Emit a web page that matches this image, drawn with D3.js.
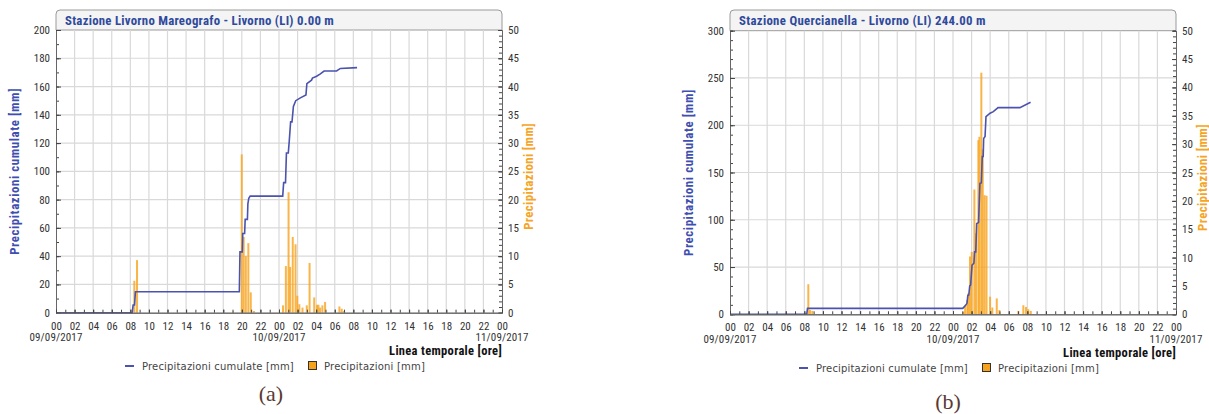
<!DOCTYPE html>
<html>
<head>
<meta charset="utf-8" />
<title></title>
<style>
html, body {
    margin: 0px;
    padding: 0px;
    background: #fff;
}
svg text {
    font-family: "Liberation Sans Narrow", "Roboto Condensed", Roboto, sans-serif;
}
.tick text {
    fill: #333;
    font-size: 11px;
}
</style>
</head>
<body>
<svg id="chart" width="1209" height="414"></svg>

<script src="https://cdnjs.cloudflare.com/ajax/libs/d3/7.8.5/d3.min.js"></script>
<script>
!(function(){
    "use strict";

    // hours since 09/09/2017 00:00
    var hourTicks = [0,2,4,6,8,10,12,14,16,18,20,22,24,26,28,30,32,34,36,38,40,42,44,46,48];
    var hourLabels = ["00","02","04","06","08","10","12","14","16","18","20","22",
                      "00","02","04","06","08","10","12","14","16","18","20","22","00"];
    var dateHours = [0, 24, 48];
    var dateLabels = ["09/09/2017", "10/09/2017", "11/09/2017"];

    var titleA = "Stazione Livorno Mareografo - Livorno (LI) 0.00 m";
    var titleB = "Stazione Quercianella - Livorno (LI) 244.00 m";

    var leftTicksA = [0,20,40,60,80,100,120,140,160,180,200];
    var leftTicksB = [0,50,100,150,200,250,300];
    var rightTicks = [0,5,10,15,20,25,30,35,40,45,50];

    // cumulated precipitation [mm], [hour, value]
    var cumA = [[0,0],[8.2,0],[8.3,5.4],[8.45,5.4],[8.55,14.8],[19.73,14.8],[19.8,43],[20.05,43],
        [20.1,56],[20.3,56],[20.36,66],[20.6,66],[20.65,77],[20.75,81],[20.9,82.5],[24.4,82.5],
        [24.5,92],[24.7,92],[24.8,113],[25.0,113],[25.1,121],[25.25,135],[25.4,135],[25.55,146],
        [25.8,150],[26.3,152],[26.9,154],[27.0,162],[27.5,164.5],[27.6,166],[28.05,167.3],
        [28.45,169],[28.85,171],[30.2,171],[30.6,172.8],[32.4,173.4]];

    var cumB = [[0,0],[8.26,0],[8.34,6.3],[25.05,6.3],[25.4,10],[25.5,11.6],[25.6,20],[25.7,20.4],
        [25.8,30],[25.9,31],[26.05,52],[26.25,54],[26.32,66],[26.45,66],[26.55,96],[26.75,97],
        [26.9,138.6],[27.05,139],[27.15,167],[27.25,167],[27.3,186],[27.45,188],[27.55,209],
        [27.99,212.7],[28.34,214.4],[28.85,218.6],[31.2,218.6],[32.35,224.3]];

    // precipitation [mm], [hour, value]
    var rainA = [[8.43,5.65],[8.72,9.3],[19.05,0.2],[19.99,28],[20.2,13.4],[20.43,10],[20.7,12.3],
        [20.96,3.6],[21.3,0.3],[24.43,1.3],[24.74,8.25],[25.03,21.3],[25.2,8.1],[25.48,13.4],
        [25.78,12.1],[25.97,3],[26.19,1.5],[26.53,0.9],[26.99,1.3],[27.29,8.8],[27.79,2.7],
        [28.1,1.4],[28.24,1.4],[28.42,0.9],[28.67,1.3],[28.96,1.9],[30.5,1.1],[30.75,0.7],[31.0,0.3]];

    var rainB = [[8.43,5.3],[8.61,0.75],[8.86,0.6],[25.11,0.45],[25.3,1.5],[25.54,2.5],[25.65,3.7],
        [25.83,10.2],[26.02,11],[26.3,22],[26.48,14.3],[26.73,30.7],[26.84,31.3],[27.05,42.6],
        [27.2,29.1],[27.4,21],[27.61,20.9],[27.99,3.1],[28.23,1.2],[28.71,2.8],[28.99,0.75],
        [31.03,0.6],[31.57,1.6],[31.86,1.3],[32.1,0.9],[32.37,0.6]];

    var blue = "#4a53ad", orange = "#f7a21b";

    var charts = [
        {x0: 56, x1: 502, y0: 30, y1: 312.7, title: titleA, titleW: 269, cum: cumA, rain: rainA,
         leftTicks: leftTicksA, leftMinor: 10, caption: "(a)", capX: 271, capY: 401,
         legX: 125, legY: 366, ltX: 14, rtX: 528},
        {x0: 730, x1: 1176, y0: 30.7, y1: 314.3, title: titleB, titleW: 247, cum: cumB, rain: rainB,
         leftTicks: leftTicksB, leftMinor: 10, caption: "(b)", capX: 948, capY: 409,
         legX: 799, legY: 368, ltX: 688, rtX: 1202}
    ];

    var svg = d3.select("#chart");

    charts.forEach(drawChart);

    // stretch a text to the width it has in the picture
    function fit(sel, w) {
        var n = sel.node();
        var len = n.getComputedTextLength();
        sel.style("letter-spacing", ((w - len) / n.textContent.length).toFixed(2) + "px");
        return sel;
    }

    function drawChart(c) {
        var g = svg.append("g");
        var leftMax = d3.max(c.leftTicks);

        var x = d3.scaleLinear().domain([0, 48]).range([c.x0, c.x1]);
        var yL = d3.scaleLinear().domain([0, leftMax]).range([c.y1, c.y0]);
        var yR = d3.scaleLinear().domain([0, 50]).range([c.y1, c.y0]);

        // title box
        g.append("path")
            .attr("d", "M" + c.x0 + "," + c.y0 + "V14Q" + c.x0 + ",10 " + (c.x0 + 4) + ",10H" + (c.x1 - 4) +
                  "Q" + c.x1 + ",10 " + c.x1 + ",14V" + c.y0 + "Z")
            .attr("fill", "#f4f4f4")
            .attr("stroke", "#9a9a9a");

        g.append("text")
            .attr("x", c.x0 + 9)
            .attr("y", 24.5)
            .attr("fill", "#2f4a9c")
            .attr("font-weight", "bold")
            .attr("font-size", "12.8px")
            .text(c.title)
            .call(fit, c.titleW);

        // grid
        g.append("g").selectAll("line")
            .data(hourTicks.slice(1, -1))
            .enter().append("line")
            .attr("x1", function(d){ return x(d); })
            .attr("x2", function(d){ return x(d); })
            .attr("y1", c.y0).attr("y2", c.y1)
            .attr("stroke", "#d9d9d9").attr("stroke-width", 1.2);

        g.append("g").selectAll("line")
            .data(c.leftTicks.slice(1, -1))
            .enter().append("line")
            .attr("x1", c.x0).attr("x2", c.x1)
            .attr("y1", function(d){ return yL(d); })
            .attr("y2", function(d){ return yL(d); })
            .attr("stroke", "#d9d9d9").attr("stroke-width", 1.2);

        // bars
        g.append("g").selectAll("rect")
            .data(c.rain)
            .enter().append("rect")
            .attr("x", function(d){ return x(d[0]) - 1; })
            .attr("width", 2)
            .attr("y", function(d){ return yR(d[1]); })
            .attr("height", function(d){ return c.y1 - yR(d[1]); })
            .attr("fill", orange)
            .attr("fill-opacity", 0.8);

        // cumulated line
        var line = d3.line()
            .x(function(d){ return x(d[0]); })
            .y(function(d){ return yL(d[1]); });

        g.append("path")
            .datum(c.cum)
            .attr("d", line)
            .attr("fill", "none")
            .attr("stroke", blue)
            .attr("stroke-width", 1.6);

        // axes
        var minorL = d3.range(0, leftMax + 1, c.leftMinor);
        g.append("g")
            .attr("transform", "translate(" + c.x0 + ",0)")
            .call(d3.axisLeft(yL).tickValues(minorL).tickSize(-3).tickFormat(""))
            .call(styleAxis);
        g.append("g")
            .attr("transform", "translate(" + c.x0 + ",0)")
            .call(d3.axisLeft(yL).tickValues(c.leftTicks).tickSizeInner(-5).tickSizeOuter(0).tickPadding(6))
            .call(styleAxis);

        g.append("g")
            .attr("transform", "translate(" + c.x1 + ",0)")
            .call(d3.axisRight(yR).tickValues(d3.range(0, 51)).tickSize(-3).tickFormat(""))
            .call(styleAxis);
        g.append("g")
            .attr("transform", "translate(" + c.x1 + ",0)")
            .call(d3.axisRight(yR).tickValues(rightTicks).tickSizeInner(-4).tickSizeOuter(0).tickPadding(6))
            .call(styleAxis);

        g.append("g")
            .attr("transform", "translate(0," + c.y1 + ")")
            .call(d3.axisBottom(x).tickValues(d3.range(0, 49)).tickSize(-3).tickFormat(""))
            .call(styleAxis);
        g.append("g")
            .attr("transform", "translate(0," + c.y1 + ")")
            .call(d3.axisBottom(x).tickValues(hourTicks).tickSizeInner(-3).tickSizeOuter(0)
                .tickFormat(function(d, i){ return hourLabels[i]; }))
            .call(styleAxis)
            .selectAll(".tick text").attr("dy", null).attr("y", 17);

        g.append("g").selectAll("text")
            .data(dateHours)
            .enter().append("text")
            .attr("x", function(d){ return x(d); })
            .attr("y", c.y1 + 28.5)
            .attr("text-anchor", "middle")
            .attr("font-size", "11px")
            .attr("fill", "#333")
            .text(function(d, i){ return dateLabels[i]; })
            .each(function(){ fit(d3.select(this), 53); });

        g.append("text")
            .attr("x", c.x1)
            .attr("y", c.y1 + 42.5)
            .attr("text-anchor", "end")
            .attr("font-size", "12.5px")
            .attr("font-weight", "bold")
            .attr("fill", "#111")
            .text("Linea temporale [ore]")
            .call(fit, 113);

        // axis titles
        var midY = (c.y0 + c.y1) / 2;
        g.append("text")
            .attr("transform", "translate(" + (c.ltX + 5) + "," + midY + ") rotate(-90)")
            .attr("text-anchor", "middle")
            .attr("font-size", "12.8px")
            .attr("font-weight", "bold")
            .attr("fill", "#3f4fb0")
            .text("Precipitazioni cumulate [mm]")
            .call(fit, 167);

        g.append("text")
            .attr("transform", "translate(" + (c.rtX + 5) + "," + (midY + 5) + ") rotate(-90)")
            .attr("text-anchor", "middle")
            .attr("font-size", "12.8px")
            .attr("font-weight", "bold")
            .attr("fill", "#f5a526")
            .text("Precipitazioni [mm]")
            .call(fit, 107);

        // legend
        var leg = g.append("g").attr("transform", "translate(" + c.legX + "," + c.legY + ")");
        leg.append("line")
            .attr("x1", 0).attr("x2", 9)
            .attr("stroke", blue).attr("stroke-width", 2);
        leg.append("text")
            .attr("x", 17).attr("y", 4)
            .style("font-family", "'DejaVu Sans', Verdana, sans-serif")
            .attr("font-size", "10px")
            .attr("fill", "#444")
            .text("Precipitazioni cumulate [mm]")
            .call(fit, 152);
        leg.append("rect")
            .attr("x", 183.5).attr("y", -4.5)
            .attr("width", 8).attr("height", 8)
            .attr("fill", orange)
            .attr("stroke", "#333");
        leg.append("text")
            .attr("x", 199).attr("y", 4)
            .style("font-family", "'DejaVu Sans', Verdana, sans-serif")
            .attr("font-size", "10px")
            .attr("fill", "#444")
            .text("Precipitazioni [mm]")
            .call(fit, 101);

        g.append("text")
            .attr("x", c.capX)
            .attr("y", c.capY)
            .attr("text-anchor", "middle")
            .style("font-family", "'Liberation Serif', 'DejaVu Serif', serif")
            .attr("font-size", "22px")
            .attr("fill", "#5a3a32")
            .text(c.caption);
    }

    function styleAxis(sel) {
        sel.select(".domain").attr("stroke", "#666");
        sel.selectAll(".tick line").attr("stroke", "#444");
    }

}());
</script>
</body>
</html>
